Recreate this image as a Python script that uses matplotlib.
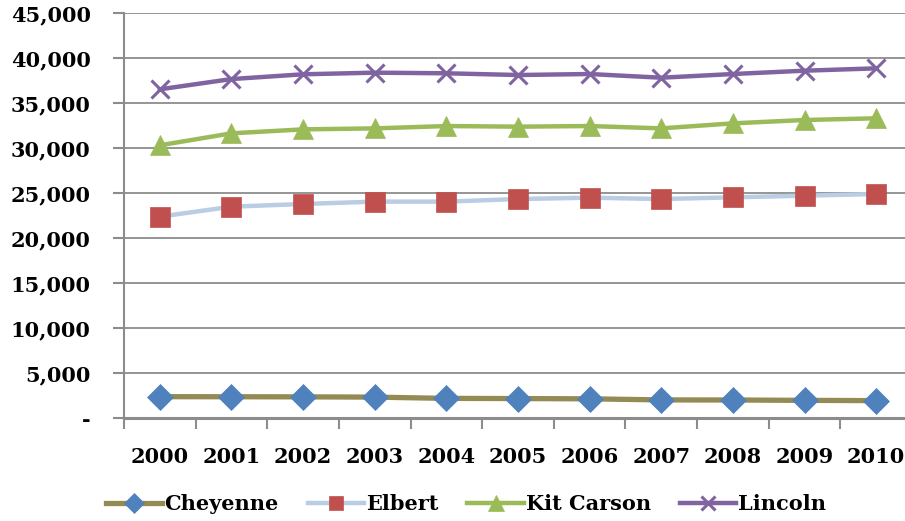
import numpy as np
import matplotlib.pyplot as plt
from matplotlib.ticker import FuncFormatter

years = ['2000', '2001', '2002', '2003', '2004', '2005', '2006', '2007', '2008', '2009', '2010']

# populations par comté (graphique en lignes empilées)
cheyenne = [2370, 2360, 2350, 2320, 2180, 2160, 2130, 2010, 2000, 1960, 1930]
elbert = [20000, 21120, 21430, 21720, 21860, 22170, 22350, 22320, 22520, 22740, 22960]
kit_carson = [7930, 8150, 8290, 8140, 8400, 8040, 7960, 7850, 8220, 8410, 8410]
lincoln = [6220, 6030, 6120, 6190, 5860, 5740, 5780, 5630, 5480, 5480, 5550]

names = ['Cheyenne', 'Elbert', 'Kit Carson', 'Lincoln']
line_cols = ['#948A54', '#B9CDE5', '#9BBB59', '#8064A2']
mark_cols = ['#4F81BD', '#C0504D', '#9BBB59', '#8064A2']
markers = ['D', 's', '^', 'x']
msizes = [13, 14, 15, 13]
lws = [3.8, 3.2, 3.2, 3.2]

font = 'DejaVu Serif'

fig = plt.figure(figsize=(9.05, 5.21), dpi=100)
ax = fig.add_axes([124/905, 103/521, 788/905, 405/521])

x = np.arange(len(years))
stack = np.cumsum(np.array([cheyenne, elbert, kit_carson, lincoln]), axis=0)

for i in range(4):
    ax.plot(x, stack[i], color=line_cols[i], lw=lws[i], marker=markers[i],
            markersize=msizes[i], markerfacecolor=mark_cols[i],
            markeredgecolor=mark_cols[i], markeredgewidth=2.2 if markers[i] == 'x' else 0.5,
            label=names[i], zorder=3, clip_on=False)

ax.set_xlim(-0.5, 10.5)
ax.set_ylim(0, 45000)
ax.set_yticks(np.arange(0, 45001, 5000))
ax.yaxis.set_major_formatter(FuncFormatter(lambda v, p: '-' if v == 0 else f'{int(v):,}'))
ax.grid(axis='y', color='#8C8C8C', lw=1.3)
ax.set_axisbelow(True)

ax.set_xticks(x)
ax.set_xticklabels(years)
ax.set_xticks(np.arange(-0.5, 11, 1), minor=True)
ax.tick_params(axis='x', which='major', length=0, pad=21)
ax.tick_params(axis='x', which='minor', length=8, width=1.5, color='#8C8C8C')
ax.tick_params(axis='y', length=8, width=1.5, color='#8C8C8C', pad=16)

for lab in ax.get_xticklabels() + ax.get_yticklabels():
    lab.set_fontfamily(font)
    lab.set_fontweight('bold')
    lab.set_fontsize(15)

for s in ['top', 'right']:
    ax.spines[s].set_visible(False)
ax.spines['left'].set_color('#8C8C8C')
ax.spines['left'].set_linewidth(1.5)
ax.spines['bottom'].set_color('#8C8C8C')
ax.spines['bottom'].set_linewidth(2.2)

fig.legend(loc='center', bbox_to_anchor=(0.515, 0.033), ncol=4, frameon=False,
           prop={'family': font, 'weight': 'bold', 'size': 15},
           handlelength=2.7, handletextpad=0.1, columnspacing=1.4, markerscale=0.75)

fig.savefig('out.png', dpi=100)
